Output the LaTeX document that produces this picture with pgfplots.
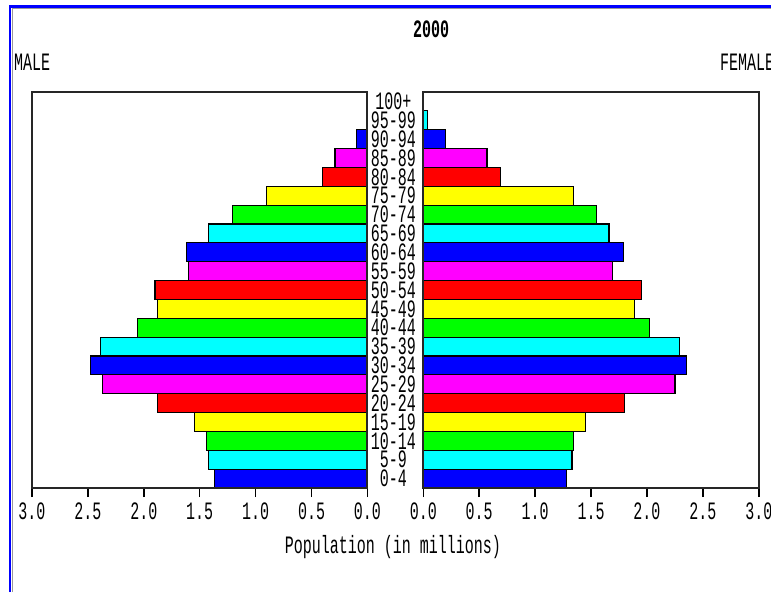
\documentclass[border=0pt]{standalone}
\usepackage{pgfplots}
\pgfplotsset{compat=1.18}
\usepackage{fontspec}
\setmainfont{Liberation Mono}[FakeStretch=0.6]
\definecolor{cblue}{RGB}{0,0,255}
\definecolor{ccyan}{RGB}{0,255,255}
\definecolor{cgreen}{RGB}{0,255,0}
\definecolor{cyellow}{RGB}{255,255,0}
\definecolor{cred}{RGB}{255,0,0}
\definecolor{cmag}{RGB}{255,0,255}
\pgfplotsset{
  pyr/.style={
    xbar, bar width=1, bar shift=0pt,
    scale only axis, width=335.5pt, height=396pt,
    xmin=0, xmax=3, ymin=-0.5, ymax=20.5,
    xtick={0,0.5,1,1.5,2,2.5,3},
    xticklabels={0.0,0.5,1.0,1.5,2.0,2.5,3.0},
    xtick pos=left,
    tick align=outside, major tick length=9pt,
    xticklabel style={yshift=3pt},
    axis line style={line width=2pt, black!85},
    xtick style={black, line width=1.5pt},
    ytick=\empty,
    axis on top,
    every axis plot/.append style={draw=black, line width=1.2pt},
    anchor=south west,
  }
}
\begin{document}
\fontsize{25}{25}\selectfont
\begin{tikzpicture}[x=1pt,y=1pt]
% male
\begin{axis}[pyr, x dir=reverse, at={(32pt,104pt)}]
\addplot[fill=cblue]   coordinates {(1.37,0) (2.48,6) (1.62,12) (0.10,18)};
\addplot[fill=ccyan]   coordinates {(1.42,1) (2.39,7) (1.42,13) (0.01,19)};
\addplot[fill=cgreen]  coordinates {(1.44,2) (2.06,8) (1.21,14)};
\addplot[fill=cyellow] coordinates {(1.55,3) (1.88,9) (0.90,15)};
\addplot[fill=cred]    coordinates {(1.88,4) (1.90,10) (0.40,16)};
\addplot[fill=cmag]    coordinates {(2.37,5) (1.60,11) (0.29,17)};
\end{axis}
% female
\begin{axis}[pyr, at={(423.3pt,104pt)},
  ytick={0,1,...,20},
  yticklabels={0-4,5-9,10-14,15-19,20-24,25-29,30-34,35-39,40-44,45-49,50-54,55-59,60-64,65-69,70-74,75-79,80-84,85-89,90-94,95-99,100+},
  ytick pos=left, ytick style={draw=none},
  yticklabel style={anchor=center, inner sep=0pt, xshift=-21pt}]
\addplot[fill=cblue]   coordinates {(1.28,0) (2.35,6) (1.79,12) (0.20,18)};
\addplot[fill=ccyan]   coordinates {(1.33,1) (2.29,7) (1.66,13) (0.04,19)};
\addplot[fill=cgreen]  coordinates {(1.34,2) (2.02,8) (1.55,14)};
\addplot[fill=cyellow] coordinates {(1.45,3) (1.89,9) (1.34,15)};
\addplot[fill=cred]    coordinates {(1.80,4) (1.95,10) (0.69,16)};
\addplot[fill=cmag]    coordinates {(2.25,5) (1.69,11) (0.57,17)};
\end{axis}
\node[anchor=west, inner sep=0pt] at (14,530) {MALE};
\node[anchor=west, inner sep=0pt] at (720,530) {FEMALE};
\node[inner sep=0pt, font=\bfseries] at (431,563) {2000};
\node[inner sep=0pt] at (393,45) {Population (in millions)};
\draw[black!40, line width=1pt] (12,0) -- (12,583.5) -- (800,583.5);
\draw[cblue, line width=2.5pt] (10,0) -- (10,585.5) -- (800,585.5);
\pgfresetboundingbox
\useasboundingbox (0,0) rectangle (771,592);
\end{tikzpicture}
\end{document}
